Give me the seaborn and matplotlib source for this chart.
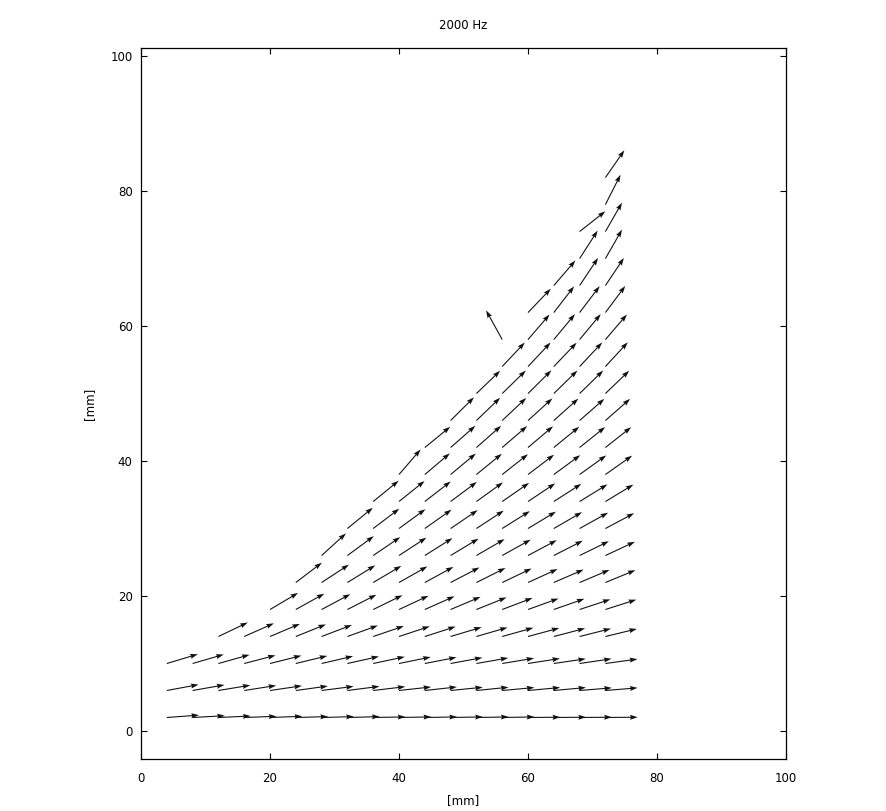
import numpy as np
import pandas as pd
import matplotlib
matplotlib.use('Agg')
import matplotlib.pyplot as plt
import seaborn as sns

# grid rows (y of arrow tails, mm) and first column of each row (x, mm)
row_y = [2, 6, 10, 14, 18, 22, 26, 30, 34, 38, 42, 46, 50, 54, 58, 62, 66, 70, 74, 78, 82]
row_x0 = [4, 4, 4, 12, 20, 24, 28, 32, 36, 40, 44, 48, 52, 56, 56, 60, 64, 68, 68, 72, 72]
x_step = 4
arrow_len = 5.0

# arrow direction (degrees) read along each row, left to right
ang_02 = [4, 3, 2.5, 2, 2, 1.5, 1.5, 1.5, 1, 1, 1, 1, 1, 1, 0.5, 0.5, 0.5, 0.5]
ang_06 = [10, 9.5, 9, 8.5, 8, 7.5, 7, 7, 6.5, 6, 6, 5.5, 5.5, 5, 5, 5, 4.5, 4.5]
ang_10 = [16, 15.5, 15, 14, 13.5, 13, 12.5, 12, 11.5, 11, 10.5, 10, 9.5, 9, 8.5, 8, 8, 7.5]
ang_14 = [24.5, 23, 22, 21, 20, 19, 18, 17.5, 17, 16, 15.5, 15, 14.5, 14, 13.5, 13]
ang_18 = [29.5, 28, 27, 26, 25, 24, 23, 22, 21, 20, 19, 18.5, 17.5, 17]
ang_22 = [36, 32, 30.5, 29.5, 28.5, 27.5, 26.5, 25.5, 24.5, 23.5, 22.5, 22, 21.5]
ang_26 = [41, 35, 33, 32, 31, 30, 29, 28, 27, 26, 25, 24]
ang_30 = [38, 36, 35, 34, 33, 32, 31, 30, 29, 28, 27]
ang_34 = [38, 37.5, 36.5, 35.5, 34.5, 33.5, 32.5, 31.5, 30.5, 30]
ang_38 = [48, 39, 38.5, 38, 37, 36, 35, 34.5, 34]
ang_42 = [38, 40, 40, 39.5, 39, 38, 37.5, 37]
ang_46 = [43.5, 42.5, 42, 41, 40.5, 40, 40]
ang_50 = [42.5, 43, 43.5, 43, 43, 42.5]
ang_54 = [45.5, 45.5, 45, 45.5, 46]
ang_58 = [120, 48, 49, 49, 48]
ang_62 = [45, 51, 51.5, 52]
ang_66 = [48, 55, 55]
ang_70 = [56, 59]
ang_74 = [37, 59]
ang_78 = [62]
ang_82 = [54]

row_angles = [ang_02, ang_06, ang_10, ang_14, ang_18, ang_22, ang_26, ang_30, ang_34,
              ang_38, ang_42, ang_46, ang_50, ang_54, ang_58, ang_62, ang_66, ang_70,
              ang_74, ang_78, ang_82]

recs = []
for y, x0, angs in zip(row_y, row_x0, row_angles):
    for i, a in enumerate(angs):
        recs.append({'x': x0 + i * x_step, 'y': y, 'angle': a})
df = pd.DataFrame(recs)
df['u'] = arrow_len * np.cos(np.radians(df['angle']))
df['v'] = arrow_len * np.sin(np.radians(df['angle']))

sns.set_style('ticks')
plt.rcParams['font.family'] = ['DejaVu Sans']
plt.rcParams['font.size'] = 8.5
plt.rcParams['text.color'] = 'black'
plt.rcParams['axes.labelcolor'] = 'black'
plt.rcParams['axes.titlecolor'] = 'black'

fig = plt.figure(figsize=(8.87, 8.11), dpi=100)
ax = fig.add_axes([141 / 887, 1 - 759 / 811, 645 / 887, 711 / 811])

ax.quiver(df['x'], df['y'], df['u'], df['v'], angles='xy', scale_units='xy', scale=1,
          color='#111111', width=0.0017, headwidth=4.6, headlength=7, headaxislength=6.2)

ax.set_xlim(0, 100)
ax.set_ylim(-4.15, 101.2)
ax.set_xticks(range(0, 101, 20))
ax.set_yticks(range(0, 101, 20))
ax.tick_params(direction='in', length=4, width=0.8, top=True, right=True, labelsize=8.5, colors='black')
ax.tick_params(axis='x', pad=9)
ax.tick_params(axis='y', pad=6)
for s in ax.spines.values():
    s.set_linewidth(0.9)
    s.set_color('black')

ax.set_xlabel('[mm]', labelpad=7)
ax.set_ylabel('[mm]', labelpad=10)
ax.set_title('2000 Hz', fontsize=8.5, pad=14)

fig.savefig('out.png', dpi=100)
